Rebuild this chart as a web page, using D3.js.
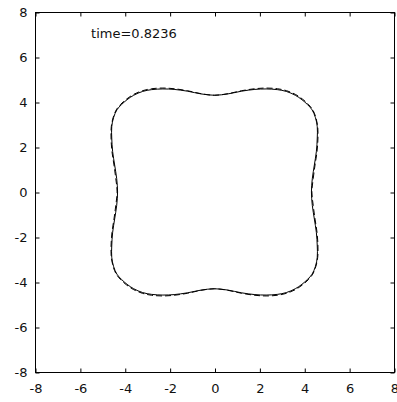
<!DOCTYPE html>
<html>
<head>
<meta charset="utf-8">
<script src="https://cdn.jsdelivr.net/npm/d3@7"></script>
<style>
  html, body { margin: 0; padding: 0; background: #fff; }
  svg { display: block; }
  text { font-family: "DejaVu Sans", sans-serif; font-size: 13px; fill: #111; }
</style>
</head>
<body>
<script>
// ---- data ----
const xTicks = [-8, -6, -4, -2, 0, 2, 4, 6, 8];
const yTicks = [-8, -6, -4, -2, 0, 2, 4, 6, 8];
const titleText = "time=0.8236";
// first-quadrant points of the solid curve (shape has 4-fold mirror symmetry)
const solidQX = [4.32, 4.36, 4.45, 4.54, 4.58, 4.58, 4.50, 4.35, 4.15, 3.90, 3.60, 3.20, 2.80, 2.30, 1.80, 1.20, 0.60, 0.00];
const solidQY = [0.00, 0.60, 1.20, 1.80, 2.40, 2.90, 3.30, 3.65, 3.88, 4.10, 4.30, 4.47, 4.55, 4.58, 4.56, 4.48, 4.36, 4.30];
// first-quadrant points of the dashed curve
const dashQX = [4.34, 4.40, 4.48, 4.57, 4.61, 4.60, 4.52, 4.38, 4.18, 3.92, 3.62, 3.22, 2.80, 2.30, 1.80, 1.20, 0.60, 0.00];
const dashQY = [0.00, 0.60, 1.20, 1.80, 2.40, 2.90, 3.30, 3.65, 3.90, 4.13, 4.33, 4.50, 4.59, 4.62, 4.59, 4.50, 4.37, 4.30];

// ---- layout ----
const W = 397, H = 402;
const mLeft = 35, mRight = 394, mTop = 12, mBottom = 372;

const svg = d3.select("body").append("svg").attr("width", W).attr("height", H);
const x = d3.scaleLinear().domain([-8, 8]).range([mLeft, mRight]);
const y = d3.scaleLinear().domain([-8, 8]).range([mBottom, mTop]);

function loop(qx, qy) {
  const q = qx.map((v, i) => [v, qy[i]]);
  const pts = [];
  q.forEach(p => pts.push([p[0], p[1]]));
  q.slice(0, -1).reverse().forEach(p => pts.push([-p[0], p[1]]));
  q.slice(1).forEach(p => pts.push([-p[0], -p[1]]));
  q.slice(1, -1).reverse().forEach(p => pts.push([p[0], -p[1]]));
  return pts;
}

const line = d3.line().x(d => x(d[0])).y(d => y(d[1])).curve(d3.curveCatmullRomClosed.alpha(0.5));

// box
svg.append("rect").attr("x", mLeft + 0.5).attr("y", mTop + 0.5)
  .attr("width", mRight - mLeft).attr("height", mBottom - mTop)
  .attr("fill", "none").attr("stroke", "#000").attr("stroke-width", 1);

// axes
const tl = 4;
const gx = svg.append("g").attr("transform", `translate(0.5,${mBottom + 0.5})`)
  .call(d3.axisBottom(x).tickValues(xTicks).tickFormat(d3.format("d")).tickSizeInner(-tl).tickSizeOuter(0).tickPadding(11));
const gxt = svg.append("g").attr("transform", `translate(0.5,${mTop + 0.5})`)
  .call(d3.axisTop(x).tickValues(xTicks).tickFormat("").tickSizeInner(-tl).tickSizeOuter(0));
const gy = svg.append("g").attr("transform", `translate(${mLeft + 0.5},0.5)`)
  .call(d3.axisLeft(y).tickValues(yTicks).tickFormat(d3.format("d")).tickSizeInner(-tl).tickSizeOuter(0).tickPadding(8));
const gyr = svg.append("g").attr("transform", `translate(${mRight + 0.5},0.5)`)
  .call(d3.axisRight(y).tickValues(yTicks).tickFormat("").tickSizeInner(-tl).tickSizeOuter(0));
[gx, gxt, gy, gyr].forEach(g => {
  g.select(".domain").remove();
  g.selectAll("line").attr("stroke", "#000");
  g.selectAll("text").style("font-family", '"DejaVu Sans", sans-serif').style("font-size", "13px").attr("fill", "#111");
});
gx.selectAll("text").text(d => d < 0 ? "-" + Math.abs(d) : d);
gy.selectAll("text").text(d => d < 0 ? "-" + Math.abs(d) : d);

// curves
svg.append("path").datum(loop(solidQX, solidQY)).attr("d", line)
  .attr("fill", "none").attr("stroke", "#000").attr("stroke-width", 1);
svg.append("path").datum(loop(dashQX, dashQY)).attr("d", line)
  .attr("fill", "none").attr("stroke", "#000").attr("stroke-width", 1).attr("stroke-dasharray", "6,3");

// title
svg.append("text").attr("x", x(-5.5)).attr("y", y(7)).attr("dy", "0.25em").text(titleText);
</script>
</body>
</html>
